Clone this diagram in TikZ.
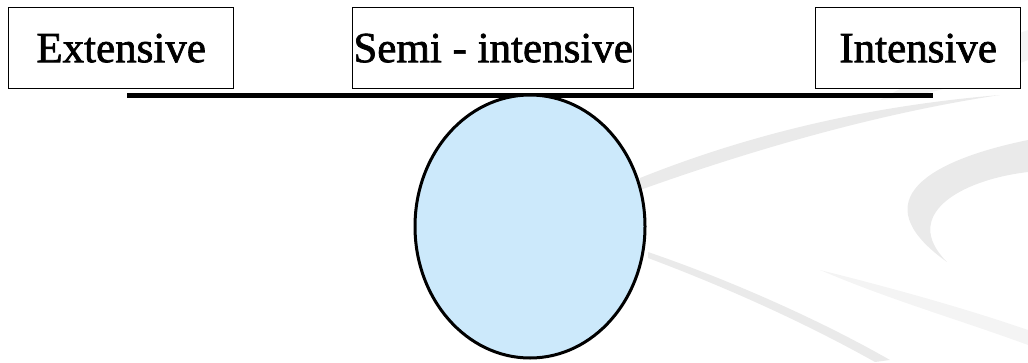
\documentclass[tikz,border=0pt]{standalone}
\usepackage{fontspec}
\setmainfont{Liberation Serif}
\newfontfamily\lblfont[BoldFont={Liberation Serif}, BoldFeatures={FakeBold=1.6}]{Liberation Serif}
\newcommand\lblsetup{\lblfont\bfseries\fontsize{43}{48}\selectfont}
\usetikzlibrary{shapes.geometric}
\definecolor{ovalfill}{HTML}{CCE9FB}
\definecolor{swoosh}{HTML}{EAEAEA}
\definecolor{swooshlight}{HTML}{F4F4F4}
\begin{document}
\begin{tikzpicture}[x=1pt,y=-1pt,
  labelbox/.style={draw=black, line width=1.3pt, fill=white, inner sep=0pt, anchor=north west,
    font=\lblsetup},
  beam/.style={line width=5pt},
  oval/.style={draw=black, line width=3pt, fill=ovalfill}]
\useasboundingbox (0,0) rectangle (1028,362);
% faint background swooshes
\fill[swooshlight] (880,100) .. controls (950,60) and (1000,40) .. (1028,30) -- (1028,60) .. controls (990,75) and (940,95) .. (880,100) -- cycle;
\fill[swoosh] (640,178) .. controls (760,130) and (880,105) .. (1000,95) .. controls (900,110) and (780,140) .. (640,190) -- cycle;
\fill[swoosh] (1028,140) .. controls (930,160) and (860,200) .. (947,262) .. controls (900,215) and (960,180) .. (1028,172) -- cycle;
\fill[swoosh] (648,252) .. controls (730,280) and (820,320) .. (890,360) -- (875,362) .. controls (800,320) and (720,285) .. (648,258) -- cycle;
\fill[swooshlight] (820,270) .. controls (900,290) and (970,310) .. (1028,330) -- (1028,345) .. controls (960,320) and (890,300) .. (820,270) -- cycle;
% boxes
\node[labelbox, minimum width=225pt, minimum height=81pt] (ext) at (8,7) {Extensive};
\node[labelbox, minimum width=281pt, minimum height=81pt] (semi) at (352,7) {Semi - intensive};
\node[labelbox, minimum width=205pt, minimum height=81pt] (int) at (815,7) {Intensive};
% beam and oval
\coordinate (bl) at (127,95);
\coordinate (br) at (933,95);
\draw[beam] (bl) -- (br);
\node[oval, ellipse, minimum width=230pt, minimum height=263pt, inner sep=0pt] (ball) at (530,226.5) {};
\end{tikzpicture}
\end{document}
